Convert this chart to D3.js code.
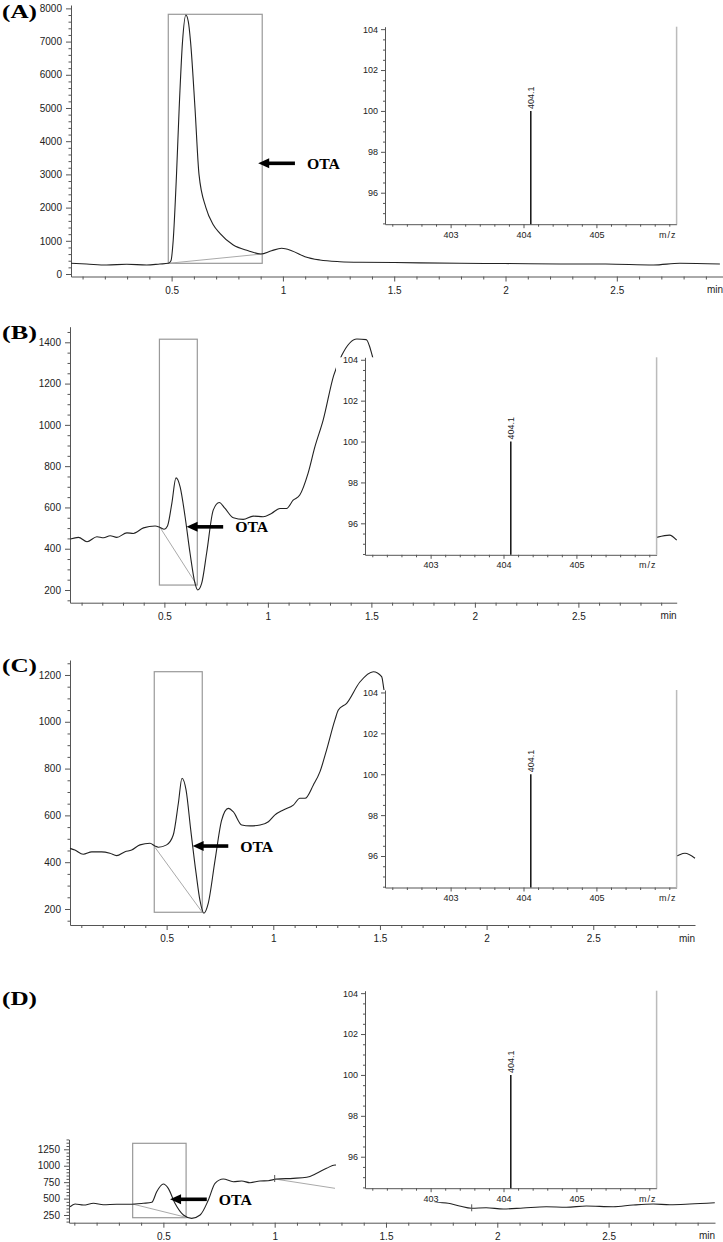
<!DOCTYPE html>
<html>
<head>
<meta charset="utf-8">
<script src="https://cdn.jsdelivr.net/npm/d3@7"></script>
<style>
body { margin: 0; background: #fff; }
svg { display: block; }
</style>
</head>
<body>
<script>
// ---- chromatogram traces (time in min, intensity), null = hidden behind the inset ----
var tA = [0.048, 0.118, 0.208, 0.298, 0.388, 0.447, 0.485, 0.497, 0.507, 0.522, 0.534, 0.549, 0.564, 0.575, 0.585, 0.605, 0.623, 0.654, 0.687, 0.717, 0.777, 0.844, 0.901, 0.949, 0.994, 1.039, 1.099, 1.166, 1.256, 1.346, 1.5, 1.795, 2.0, 2.245, 2.45, 2.665, 2.783, 2.963];
var vA = [322, 301, 271, 292, 271, 301, 322, 400, 1000, 3000, 5000, 7000, 7800, 7600, 7000, 5000, 3000, 2000, 1486, 1225, 873, 702, 602, 702, 774, 702, 521, 422, 370, 352, 345, 322, 315, 301, 300, 271, 322, 301];

var tB = [0.046, 0.085, 0.126, 0.174, 0.206, 0.238, 0.270, 0.319, 0.350, 0.399, 0.455, 0.479, 0.499, 0.515, 0.536, 0.556, 0.576, 0.600, 0.624, 0.648, 0.661, 0.680, 0.704, 0.736, 0.765, 0.793, 0.833, 0.881, 0.929, 0.977, 1.017, 1.058, 1.090, 1.122, 1.154, 1.194, 1.227, 1.267, 1.318, 1.357, 1.430, 1.475, 1.504, 1.53, null, 2.84, 2.87, 2.94, 2.975];
var vB = [447, 455, 434, 458, 453, 463, 455, 477, 474, 501, 510, 503, 494, 510, 620, 743, 700, 555, 378, 232, 200, 232, 378, 587, 624, 595, 550, 542, 558, 555, 571, 595, 595, 635, 660, 765, 893, 1023, 1240, 1337, 1416, 1413, 1336, 1220, null, 445, 453, 466, 442];

var tC = [0.047, 0.070, 0.109, 0.149, 0.195, 0.234, 0.266, 0.305, 0.336, 0.375, 0.422, 0.445, 0.461, 0.500, 0.531, 0.555, 0.572, 0.591, 0.613, 0.638, 0.656, 0.675, 0.695, 0.727, 0.758, 0.789, 0.812, 0.852, 0.891, 0.938, 0.977, 1.008, 1.047, 1.094, 1.125, 1.149, 1.188, 1.219, 1.250, 1.289, 1.305, 1.344, 1.406, 1.469, 1.508, 1.519, 1.54, null, 2.86, 2.891, 2.93, 2.977];
var vC = [459, 452, 434, 444, 444, 438, 428, 445, 452, 474, 481, 469, 464, 474, 516, 652, 759, 709, 538, 353, 238, 182, 224, 409, 580, 630, 616, 559, 555, 559, 573, 602, 623, 644, 673, 673, 730, 787, 880, 1008, 1050, 1079, 1170, 1214, 1193, 1136, 1050, null, 420, 427, 438, 417];

var tD = [0.081, 0.103, 0.141, 0.186, 0.230, 0.290, 0.350, 0.410, 0.448, 0.470, 0.500, 0.522, 0.552, 0.590, 0.627, 0.665, 0.702, 0.732, 0.769, 0.814, 0.852, 0.889, 0.934, 0.971, 1.009, 1.083, 1.144, 1.189, 1.233, 1.271, 1.30, null, 1.70, 1.72, 1.78, 1.83, 1.885, 1.95, 2.027, 2.116, 2.22, 2.31, 2.40, 2.52, 2.61, 2.70, 2.775, 2.865, 2.977];
var vD = [376, 417, 402, 428, 407, 413, 413, 428, 443, 605, 722, 656, 428, 250, 199, 250, 478, 732, 798, 757, 767, 742, 767, 772, 798, 808, 824, 885, 961, 1011, 1000, null, 480, 452, 428, 387, 352, 361, 341, 357, 376, 367, 387, 376, 402, 417, 407, 417, 437];

// integration boxes [t start, t end, intensity low, intensity high]
var boxA = [0.485, 0.907, 322, 7822];
var boxB = [0.476, 0.659, 224, 1415];
var boxC = [0.442, 0.667, 186, 1214];
var boxD = [0.362, 0.602, 209, 1341];

// drawn baselines [[t, v], [t, v]]
var baseA = [[[0.485, 322], [0.905, 602]]];
var baseB = [[[0.479, 503], [0.657, 224]]];
var baseC = [[[0.445, 464], [0.667, 186]]];
var baseD = [[[0.362, 417], [0.602, 215]], [[1.0, 798], [1.271, 656]]];
var markD = [1.0, 1.885];

// arrows [t head, t tail, intensity]
var arrowA = [0.889, 1.054, 3334];
var arrowB = [0.607, 0.784, 506];
var arrowC = [0.622, 0.789, 469];
var arrowD = [0.530, 0.695, 489];

// axis ranges
var xDomA = [0.048, 2.977], yDomA = [-75, 8102];
var xDomB = [0.044, 2.975], yDomB = [138.5, 1475.6];
var xDomC = [0.047, 2.977], yDomC = [131.6, 1264];
var xDomD = [0.076, 2.978], yDomD = [133, 1402];

var yTicksA = [0, 1000, 2000, 3000, 4000, 5000, 6000, 7000, 8000];
var yTicksB = [200, 400, 600, 800, 1000, 1200, 1400];
var yTicksC = [200, 400, 600, 800, 1000, 1200];
var yTicksD = [250, 500, 750, 1000, 1250];
var xTicks = [0.5, 1, 1.5, 2, 2.5];

// mass spectrum insets
var mzDom = [402.1, 406.1], relDom = [94.46, 104.12];
var mzTicks = [403, 404, 405];
var relTicks = [96, 98, 100, 102, 104];
var peakMz = [404.1], peakRel = [100], peakLabel = ['404.1'];

var W = 723, H = 1242;
var sans = '"Liberation Sans", Arial, sans-serif';
var serif = '"Liberation Serif", "Times New Roman", serif';
var fmtInt = d3.format('d');

var svg = d3.select('body').append('svg').attr('width', W).attr('height', H);
svg.append('rect').attr('width', W).attr('height', H).attr('fill', '#fff');

var panels = [
	{ label: '(A)', labelY: 18, left: 71, right: 723, top: 5, bottom: 276.5, xDom: xDomA, yDom: yDomA, yTicks: yTicksA, yMinor: 200,
		t: tA, v: vA, box: boxA, base: baseA, arrow: arrowA, marks: [], inset: [385, 26.7] },
	{ label: '(B)', labelY: 338.5, left: 70, right: 676.7, top: 326.7, bottom: 602.7, xDom: xDomB, yDom: yDomB, yTicks: yTicksB, yMinor: 50,
		t: tB, v: vB, box: boxB, base: baseB, arrow: arrowB, marks: [], inset: [365, 357.3] },
	{ label: '(C)', labelY: 671.5, left: 70, right: 695, top: 660, bottom: 925, xDom: xDomC, yDom: yDomC, yTicks: yTicksC, yMinor: 50,
		t: tC, v: vC, box: boxC, base: baseC, arrow: arrowC, marks: [], inset: [385, 690] },
	{ label: '(D)', labelY: 1005, left: 69, right: 715, top: 1139.3, bottom: 1222.7, xDom: xDomD, yDom: yDomD, yTicks: yTicksD, yMinor: 50,
		t: tD, v: vD, box: boxD, base: baseD, arrow: arrowD, marks: markD, inset: [365, 990.7] }
];

function styleAxis(sel, size) {
	sel.attr('font-family', sans).attr('font-size', size);
	sel.selectAll('path.domain').attr('stroke', '#555');
	sel.selectAll('.tick line').attr('stroke', '#555');
	sel.selectAll('.tick text').attr('fill', '#222');
}

function minorTicks(dom, step, skip) {
	var out = [];
	var start = Math.ceil(dom[0] / step - 1e-6);
	for (var i = start; i * step <= dom[1] + 1e-9; i++) {
		var val = +(i * step).toFixed(4);
		if (skip.indexOf(val) < 0) out.push(val);
	}
	return out;
}

function drawPanel(p) {
	var g = svg.append('g');
	var x = d3.scaleLinear().domain(p.xDom).range([p.left, p.right]);
	var y = d3.scaleLinear().domain(p.yDom).range([p.bottom, p.top]);

	// axes
	g.append('g').attr('transform', 'translate(0,' + p.bottom + ')')
		.call(d3.axisBottom(x).tickValues(minorTicks(p.xDom, 0.1, xTicks)).tickSize(3).tickFormat(''))
		.call(function(s) { s.select('.domain').remove(); styleAxis(s, 10); });
	g.append('g').attr('transform', 'translate(0,' + p.bottom + ')')
		.call(d3.axisBottom(x).tickValues(xTicks).tickSize(5).tickSizeOuter(0).tickPadding(5).tickFormat(d3.format('')))
		.call(function(s) { styleAxis(s, 10); });
	g.append('g').attr('transform', 'translate(' + p.left + ',0)')
		.call(d3.axisLeft(y).tickValues(minorTicks(p.yDom, p.yMinor, p.yTicks)).tickSize(2.5).tickFormat(''))
		.call(function(s) { s.select('.domain').remove(); styleAxis(s, 10); });
	g.append('g').attr('transform', 'translate(' + p.left + ',0)')
		.call(d3.axisLeft(y).tickValues(p.yTicks).tickSize(5).tickSizeOuter(0).tickPadding(4).tickFormat(fmtInt))
		.call(function(s) { styleAxis(s, 10); });

	g.append('text').attr('x', p.right).attr('y', p.bottom + 16.5).attr('text-anchor', 'end')
		.attr('font-family', sans).attr('font-size', 10).attr('fill', '#222').text('min');

	// integration box and baselines
	g.append('rect')
		.attr('x', x(p.box[0])).attr('y', y(p.box[3]))
		.attr('width', x(p.box[1]) - x(p.box[0])).attr('height', y(p.box[2]) - y(p.box[3]))
		.attr('fill', 'none').attr('stroke', '#999').attr('stroke-width', 1.2);
	p.base.forEach(function(b) {
		g.append('line')
			.attr('x1', x(b[0][0])).attr('y1', y(b[0][1]))
			.attr('x2', x(b[1][0])).attr('y2', y(b[1][1]))
			.attr('stroke', '#aaa').attr('stroke-width', 1);
	});

	// trace
	var pts = p.t.map(function(t, i) { return [t, p.v[i]]; });
	var line = d3.line()
		.defined(function(d) { return d[0] != null && d[1] != null; })
		.x(function(d) { return x(d[0]); })
		.y(function(d) { return y(d[1]); })
		.curve(d3.curveMonotoneX);
	g.append('path').datum(pts).attr('d', line)
		.attr('fill', 'none').attr('stroke', '#222').attr('stroke-width', 1.1);

	// small peak marks on the trace
	var known = pts.filter(function(d) { return d[0] != null; });
	p.marks.forEach(function(m) {
		var i = d3.bisector(function(d) { return d[0]; }).left(known, m);
		var v = known[Math.min(i, known.length - 1)][1];
		g.append('line').attr('x1', x(m)).attr('x2', x(m)).attr('y1', y(v) - 4).attr('y2', y(v) + 3)
			.attr('stroke', '#555').attr('stroke-width', 1);
	});

	// arrow + OTA label
	var xh = x(p.arrow[0]), xt = x(p.arrow[1]), ya = y(p.arrow[2]);
	g.append('line').attr('x1', xh + 8).attr('x2', xt).attr('y1', ya).attr('y2', ya)
		.attr('stroke', '#000').attr('stroke-width', 3.6);
	g.append('path').attr('d', 'M' + xh + ',' + ya + 'L' + (xh + 11) + ',' + (ya - 5) + 'L' + (xh + 11) + ',' + (ya + 5) + 'Z')
		.attr('fill', '#000');
	g.append('text').attr('x', xt + 12).attr('y', ya + 5.5)
		.attr('font-family', serif).attr('font-weight', 'bold').attr('font-size', 14.5)
		.attr('textLength', 33).attr('lengthAdjust', 'spacingAndGlyphs').text('OTA');

	// panel letter
	svg.append('text').attr('x', 2).attr('y', p.labelY)
		.attr('font-family', serif).attr('font-weight', 'bold').attr('font-size', 19)
		.attr('textLength', 35).attr('lengthAdjust', 'spacingAndGlyphs').text(p.label);

	drawInset(p.inset[0], p.inset[1]);
}

function drawInset(left, top) {
	var w = 291.6, h = 197.5;
	var g = svg.append('g');
	var xi = d3.scaleLinear().domain(mzDom).range([left, left + w]);
	var yi = d3.scaleLinear().domain(relDom).range([top + h, top]);

	g.append('rect').attr('x', left - 29).attr('y', top).attr('width', w + 29).attr('height', h + 14).attr('fill', '#fff');

	g.append('g').attr('transform', 'translate(0,' + (top + h) + ')')
		.call(d3.axisBottom(xi).tickValues(minorTicks(mzDom, 0.2, mzTicks)).tickSize(2.5).tickFormat(''))
		.call(function(s) { s.select('.domain').remove(); styleAxis(s, 9); });
	g.append('g').attr('transform', 'translate(0,' + (top + h) + ')')
		.call(d3.axisBottom(xi).tickValues(mzTicks).tickSize(4).tickSizeOuter(0).tickPadding(3).tickFormat(fmtInt))
		.call(function(s) { styleAxis(s, 9); });
	g.append('g').attr('transform', 'translate(' + left + ',0)')
		.call(d3.axisLeft(yi).tickValues(minorTicks(relDom, 0.5, relTicks)).tickSize(2).tickFormat(''))
		.call(function(s) { s.select('.domain').remove(); styleAxis(s, 9); });
	g.append('g').attr('transform', 'translate(' + left + ',0)')
		.call(d3.axisLeft(yi).tickValues(relTicks).tickSize(4).tickSizeOuter(0).tickPadding(3).tickFormat(fmtInt))
		.call(function(s) { styleAxis(s, 9); });

	g.append('line').attr('x1', left + w).attr('x2', left + w).attr('y1', top).attr('y2', top + h)
		.attr('stroke', '#bbb').attr('stroke-width', 1.5);
	g.append('text').attr('x', left + w).attr('y', top + h + 13.5).attr('text-anchor', 'end')
		.attr('font-family', sans).attr('font-size', 9).attr('letter-spacing', 1).attr('fill', '#222').text('m/z');

	peakMz.forEach(function(m, i) {
		g.append('line').attr('x1', xi(m)).attr('x2', xi(m)).attr('y1', yi(relDom[0])).attr('y2', yi(peakRel[i]))
			.attr('stroke', '#111').attr('stroke-width', 1.5);
		g.append('text')
			.attr('transform', 'translate(' + (xi(m) + 3.3) + ',' + (yi(peakRel[i]) - 2) + ') rotate(-90)')
			.attr('font-family', sans).attr('font-size', 9).attr('fill', '#222').text(peakLabel[i]);
	});
}

panels.forEach(drawPanel);
</script>
</body>
</html>
